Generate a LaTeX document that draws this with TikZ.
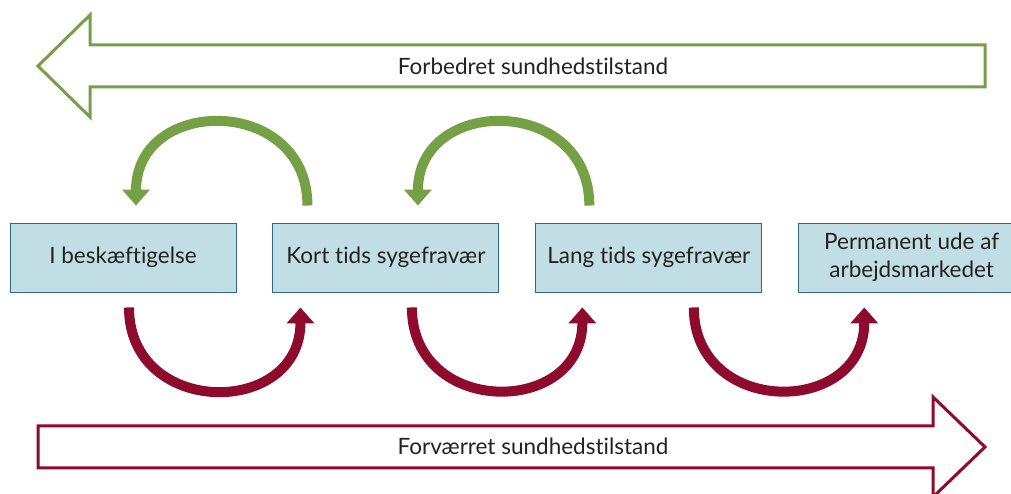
\documentclass[tikz,border=0pt]{standalone}
\usepackage{fontspec}
\setmainfont{Lato}[Ligatures={NoCommon}]
\usetikzlibrary{positioning,arrows.meta}

\definecolor{healthgreen}{HTML}{76A045}
\definecolor{healthred}{HTML}{8E0B2D}
\definecolor{stagefill}{HTML}{C2DEE5}
\definecolor{stageline}{HTML}{2E6B82}
\definecolor{txt}{HTML}{222222}

\tikzset{
  stage/.style={draw=stageline, fill=stagefill, line width=0.9pt,
    minimum width=226pt, minimum height=69pt, inner sep=2pt,
    align=center, text=txt, font=\fontsize{22.5}{28}\selectfont},
  bigarrow/.style={draw=#1, line width=3pt, fill=white, line join=miter},
  label/.style={text=txt, font=\fontsize{22.5}{28}\selectfont},
  backarc/.style={healthgreen, line width=10pt,
    -{Triangle[width=27pt,length=16pt]}, out=90, in=90, looseness=1.65},
  fwdarc/.style={healthred, line width=10pt,
    -{Triangle[width=27pt,length=16pt]}, out=-90, in=-90, looseness=1.65}
}

\begin{document}
\begin{tikzpicture}[x=1pt, y=1pt]
    \useasboundingbox (0,0) rectangle (1011,494);
    \draw[bigarrow=healthgreen] (38,428) -- (90,479) -- (90,449) -- (985,449)
        -- (985,407) -- (90,407) -- (90,377) -- cycle;
    \draw[bigarrow=healthred] (985,47) -- (933,97) -- (933,68) -- (38,68)
        -- (38,26) -- (933,26) -- (933,-3) -- cycle;
    \node[label] (better) at (533,428) {Forbedret sundhedstilstand};
    \node[label] (worse) at (533,48) {Forværret sundhedstilstand};

    \node[stage] (besk) at (123,236.5) {I beskæftigelse};
    \node[stage, right=36pt of besk] (kort) {Kort tids sygefravær};
    \node[stage, right=36pt of kort] (lang) {Lang tids sygefravær};
    \node[stage, right=36pt of lang] (perm) {Permanent ude af\\arbejdsmarkedet};

    \draw[backarc] ([shift={(35,17)}]kort.north west) to ([shift={(13,17)}]besk.north);
    \draw[backarc] ([shift={(54,17)}]lang.north west) to ([shift={(32,17)}]kort.north);

    \draw[fwdarc] ([shift={(6,-15)}]besk.south) to ([shift={(28,-15)}]kort.south west);
    \draw[fwdarc] ([shift={(26,-15)}]kort.south) to ([shift={(47,-15)}]lang.south west);
    \draw[fwdarc] ([shift={(45,-15)}]lang.south) to ([shift={(66,-15)}]perm.south west);
\end{tikzpicture}
\end{document}
